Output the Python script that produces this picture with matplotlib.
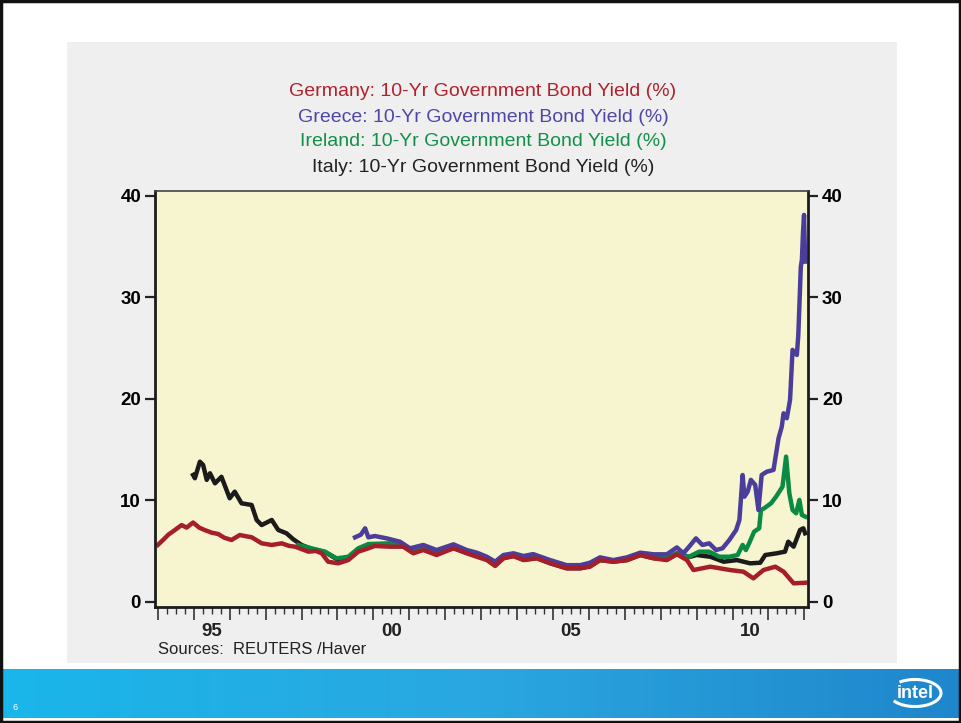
import numpy as np
import matplotlib.pyplot as plt
from matplotlib.patches import Rectangle, Arc
from matplotlib.ticker import MultipleLocator
from matplotlib.colors import LinearSegmentedColormap
import matplotlib.transforms as mtransforms

plt.rcParams['font.family'] = ['Liberation Sans', 'DejaVu Sans']

# 10-yr government bond yields (%), decimal years
de_t = [1994.0, 1994.15, 1994.29, 1994.45, 1994.66, 1994.8, 1994.98, 1995.15,
        1995.31, 1995.5, 1995.68, 1995.85, 1996.05, 1996.28, 1996.45, 1996.61,
        1996.89, 1997.17, 1997.45, 1997.65, 1997.82, 1998.19, 1998.4, 1998.56,
        1998.74, 1999.02, 1999.3, 1999.58, 1999.86, 2000.04, 2000.46, 2000.83,
        2001.11, 2001.39, 2001.76, 2002.23, 2002.6, 2002.88, 2003.16, 2003.39,
        2003.62, 2003.9, 2004.18, 2004.55, 2004.92, 2005.38, 2005.76, 2006.03,
        2006.31, 2006.68, 2007.06, 2007.43, 2007.8, 2008.17, 2008.45, 2008.73,
        2008.91, 2009.38, 2009.93, 2010.3, 2010.58, 2010.86, 2011.19, 2011.42,
        2011.7, 2012.02]
de_y = [5.6, 6.1, 6.6, 7.0, 7.55, 7.3, 7.8, 7.3,
        7.05, 6.8, 6.67, 6.3, 6.08, 6.57, 6.45, 6.35,
        5.75, 5.59, 5.75, 5.5, 5.42, 4.93, 5.0, 4.77,
        3.94, 3.78, 4.1, 4.93, 5.26, 5.49, 5.42, 5.42,
        4.77, 5.09, 4.6, 5.26, 4.77, 4.43, 4.1, 3.52,
        4.27, 4.5, 4.1, 4.27, 3.78, 3.29, 3.29, 3.45,
        4.1, 3.94, 4.1, 4.6, 4.27, 4.1, 4.67, 4.1,
        3.12, 3.45, 3.12, 2.96, 2.3, 3.12, 3.45, 2.96,
        1.81, 1.87]

gr_t = [1999.49, 1999.65, 1999.77, 1999.86, 2000.04, 2000.37, 2000.74, 2001.02,
        2001.39, 2001.76, 2002.23, 2002.6, 2002.88, 2003.16, 2003.39, 2003.62,
        2003.9, 2004.18, 2004.45, 2004.92, 2005.38, 2005.76, 2006.03, 2006.31,
        2006.68, 2007.06, 2007.43, 2007.8, 2008.17, 2008.45, 2008.63, 2008.79,
        2008.98, 2009.16, 2009.35, 2009.54, 2009.72, 2009.91, 2010.1, 2010.19,
        2010.28, 2010.33, 2010.42, 2010.51, 2010.63, 2010.72, 2010.81, 2010.95,
        2011.14, 2011.28, 2011.37, 2011.42, 2011.51, 2011.6, 2011.67, 2011.79,
        2011.83, 2011.88, 2011.9, 2011.93, 2011.96, 2011.99, 2012.02]
gr_y = [6.34, 6.6, 7.23, 6.34, 6.47, 6.24, 5.91, 5.26,
        5.59, 5.09, 5.65, 5.09, 4.83, 4.43, 3.94, 4.6,
        4.77, 4.5, 4.69, 4.1, 3.6, 3.6, 3.84, 4.37,
        4.1, 4.37, 4.83, 4.67, 4.67, 5.35, 4.77, 5.42,
        6.24, 5.59, 5.75, 5.09, 5.26, 6.08, 7.07, 8.05,
        12.48, 10.34, 10.84, 12.0, 11.5, 9.03, 12.48, 12.8,
        12.98, 16.1, 17.24, 18.56, 18.07, 19.87, 24.8, 24.3,
        26.27, 31.03, 33.0, 33.67, 36.3, 38.1, 33.5]

ie_t = [1997.91, 1998.28, 1998.65, 1998.98, 1999.3, 1999.58, 1999.86, 2000.46,
        2000.83, 2001.11, 2001.39, 2001.76, 2002.23, 2002.6, 2002.88, 2003.16,
        2003.39, 2003.62, 2003.9, 2004.18, 2004.55, 2004.92, 2005.38, 2005.76,
        2006.03, 2006.31, 2006.68, 2007.06, 2007.43, 2007.8, 2008.17, 2008.45,
        2008.79, 2009.07, 2009.35, 2009.63, 2009.91, 2010.14, 2010.28, 2010.37,
        2010.46, 2010.6, 2010.74, 2010.79, 2010.88, 2011.07, 2011.21, 2011.39,
        2011.49, 2011.58, 2011.67, 2011.77, 2011.86, 2011.93, 2012.03]
ie_y = [5.59, 5.26, 4.93, 4.27, 4.43, 5.26, 5.68, 5.75,
        5.65, 5.0, 5.3, 4.85, 5.4, 4.9, 4.6, 4.25,
        3.7, 4.4, 4.6, 4.25, 4.4, 3.9, 3.4, 3.4,
        3.6, 4.2, 4.0, 4.2, 4.7, 4.4, 4.3, 4.8,
        4.43, 4.93, 4.93, 4.43, 4.43, 4.6, 5.59, 5.09,
        5.75, 6.9, 7.23, 9.03, 9.2, 9.69, 10.34, 11.33,
        14.29, 10.68, 9.03, 8.71, 10.02, 8.54, 8.37]

it_t = [1994.98, 1995.03, 1995.17, 1995.26, 1995.36, 1995.45, 1995.59, 1995.77,
        1996.0, 1996.14, 1996.33, 1996.61, 1996.75, 1996.89, 1997.17, 1997.35,
        1997.58, 1997.77, 1998.0, 1998.28, 1998.65, 1998.98, 1999.3, 1999.58,
        1999.86, 2000.46, 2000.83, 2001.11, 2001.39, 2001.76, 2002.23, 2002.6,
        2002.88, 2003.16, 2003.39, 2003.62, 2003.9, 2004.18, 2004.55, 2004.92,
        2005.38, 2005.76, 2006.03, 2006.31, 2006.68, 2007.06, 2007.43, 2007.8,
        2008.17, 2008.45, 2008.79, 2009.0, 2009.38, 2009.75, 2010.12, 2010.49,
        2010.77, 2010.91, 2011.23, 2011.46, 2011.55, 2011.7, 2011.88, 2011.97,
        2012.02]
it_y = [12.48, 12.16, 13.79, 13.47, 12.0, 12.65, 11.66, 12.3,
        10.19, 10.84, 9.69, 9.53, 8.05, 7.55, 8.05, 7.07,
        6.74, 6.15, 5.59, 5.2, 4.9, 4.2, 4.35, 5.15,
        5.6, 5.65, 5.55, 4.9, 5.2, 4.75, 5.3, 4.8,
        4.5, 4.15, 3.6, 4.3, 4.5, 4.15, 4.3, 3.8,
        3.3, 3.3, 3.5, 4.1, 3.95, 4.1, 4.6, 4.3,
        4.2, 4.7, 4.4, 4.6, 4.43, 3.94, 4.1, 3.78,
        3.84, 4.6, 4.77, 4.93, 5.91, 5.42, 7.07, 7.23,
        6.74]

series = [
    ("Italy", it_t, it_y, "#1c1a1a", "#222222"),
    ("Ireland", ie_t, ie_y, "#0a8a43", "#12904a"),
    ("Greece", gr_t, gr_y, "#4a3d9c", "#5046a8"),
    ("Germany", de_t, de_y, "#a51e2a", "#b0222e"),
]
title_order = ["Germany", "Greece", "Ireland", "Italy"]
year_labels = {1995: "95", 2000: "00", 2005: "05", 2010: "10"}

W, H = 961, 723
fig = plt.figure(figsize=(W / 100, H / 100), dpi=100)
fig.patch.set_facecolor("white")

# gray slide panel behind the chart
fig.patches.append(Rectangle((67 / W, 1 - 663 / H), (897 - 67) / W,
                             (663 - 42) / H, transform=fig.transFigure,
                             facecolor="#eeefee", edgecolor="none", zorder=-5))

ax = fig.add_axes([155 / W, 1 - 607 / H, (808 - 155) / W, (607 - 190.5) / H])
ax.set_zorder(2)
ax.set_facecolor("#f7f5cf")
for name, t, y, c, _ in series:
    ax.plot(t, y, color=c, lw=3.2, solid_joinstyle="round")

ax.set_xlim(1993.92, 2012.1)
ax.set_ylim(-0.52, 40.5)
ax.yaxis.set_major_locator(MultipleLocator(10))
ax.tick_params(axis="y", which="both", left=True, right=True, labelleft=True,
               labelright=True, direction="out", length=7, width=1.6,
               labelsize=13.5, pad=3, color="#222")
for lab in ax.get_yticklabels():
    lab.set_fontweight("bold")
ax.set_xticks(np.arange(1994, 2013))
ax.xaxis.set_minor_locator(MultipleLocator(0.25))
ax.tick_params(axis="x", which="major", length=9, width=1.2, color="#333",
               labelbottom=False)
ax.tick_params(axis="x", which="minor", length=5, width=1.0, color="#333")
for side in ["left", "bottom", "right"]:
    ax.spines[side].set_linewidth(2.0)
    ax.spines[side].set_color("#1c1c1c")
ax.spines["top"].set_linewidth(1.2)
ax.spines["top"].set_color("#444")

trans = mtransforms.blended_transform_factory(ax.transData, fig.transFigure)
for yr, txt in year_labels.items():
    ax.text(yr + 0.5, 1 - 632 / H, txt, transform=trans, ha="center",
            va="center", fontsize=13.5, fontweight="bold", color="#222")

fig.text(158 / W, 1 - 650 / H, "Sources:  REUTERS /Haver", fontsize=12,
         color="#222", va="center")

colors = {name: tc for name, _, _, _, tc in series}
for i, name in enumerate(title_order):
    fig.text(483 / W, 1 - (92 + 25 * i) / H,
             f"{name}: 10-Yr Government Bond Yield (%)", ha="center",
             va="center", fontsize=14, color=colors[name])

# blue footer band
band = fig.add_axes([0, 1 - 718 / H, 1, (718 - 669) / H])
grad = np.linspace(0, 1, 256).reshape(1, -1)
cmap = LinearSegmentedColormap.from_list("band", ["#1ab6ea", "#2aa7e0",
                                                  "#1f86cb"])
band.imshow(grad, aspect="auto", cmap=cmap, extent=[0, W, 718, 669])
band.set_xlim(0, W)
band.set_ylim(718, 669)
band.axis("off")
band.text(15, 708, "6", color="white", fontsize=6.5, ha="center", va="center")
band.text(915, 694, "intel", color="white", fontsize=13, fontweight="bold",
          ha="center", va="center")
band.add_patch(Arc((915, 693), 52, 27, theta1=215, theta2=160,
                   color="white", lw=2.2))

# slide border
fig.patches.append(Rectangle((0.001, 0.001), 0.998, 0.998,
                             transform=fig.transFigure, fill=False,
                             edgecolor="#111", lw=2.5, zorder=10))

fig.savefig("out.png", dpi=100)
